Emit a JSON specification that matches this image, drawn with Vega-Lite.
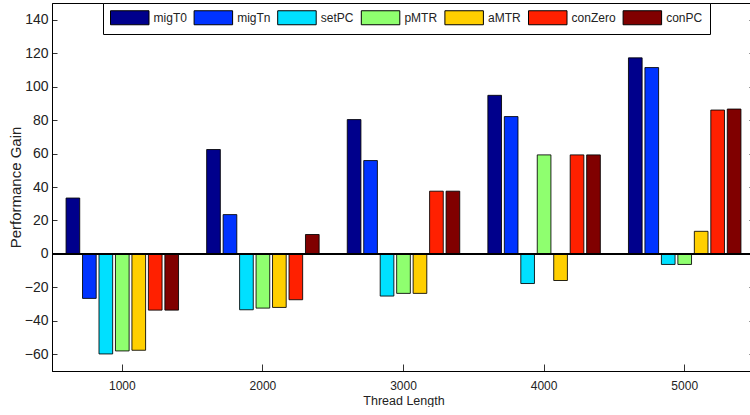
{
  "$schema": "https://vega.github.io/schema/vega-lite/v6.json",
  "width": 703,
  "height": 368,
  "padding": {"left": 8, "top": 2, "right": 0, "bottom": 0},
  "background": "white",
  "config": {
    "view": {"stroke": "#000", "strokeWidth": 1},
    "font": "Liberation Sans, Arial, sans-serif",
    "axis": {"domainColor": "#000", "tickColor": "#333", "labelColor": "#222", "titleColor": "#222", "grid": false}
  },
  "data": {"values": [
    {"len": "1000", "series": "migT0", "gain": 33.4},
    {"len": "1000", "series": "migTn", "gain": -26.6},
    {"len": "1000", "series": "setPC", "gain": -59.8},
    {"len": "1000", "series": "pMTR", "gain": -58.0},
    {"len": "1000", "series": "aMTR", "gain": -57.6},
    {"len": "1000", "series": "conZero", "gain": -33.6},
    {"len": "1000", "series": "conPC", "gain": -33.6},
    {"len": "2000", "series": "migT0", "gain": 62.4},
    {"len": "2000", "series": "migTn", "gain": 23.5},
    {"len": "2000", "series": "setPC", "gain": -33.4},
    {"len": "2000", "series": "pMTR", "gain": -32.4},
    {"len": "2000", "series": "aMTR", "gain": -32.0},
    {"len": "2000", "series": "conZero", "gain": -27.4},
    {"len": "2000", "series": "conPC", "gain": 11.6},
    {"len": "3000", "series": "migT0", "gain": 80.3},
    {"len": "3000", "series": "migTn", "gain": 55.8},
    {"len": "3000", "series": "setPC", "gain": -25.2},
    {"len": "3000", "series": "pMTR", "gain": -23.6},
    {"len": "3000", "series": "aMTR", "gain": -23.6},
    {"len": "3000", "series": "conZero", "gain": 37.5},
    {"len": "3000", "series": "conPC", "gain": 37.5},
    {"len": "4000", "series": "migT0", "gain": 94.8},
    {"len": "4000", "series": "migTn", "gain": 82.1},
    {"len": "4000", "series": "setPC", "gain": -17.7},
    {"len": "4000", "series": "pMTR", "gain": 59.2},
    {"len": "4000", "series": "aMTR", "gain": -15.9},
    {"len": "4000", "series": "conZero", "gain": 59.2},
    {"len": "4000", "series": "conPC", "gain": 59.2},
    {"len": "5000", "series": "migT0", "gain": 117.2},
    {"len": "5000", "series": "migTn", "gain": 111.4},
    {"len": "5000", "series": "setPC", "gain": -6.3},
    {"len": "5000", "series": "pMTR", "gain": -6.3},
    {"len": "5000", "series": "aMTR", "gain": 13.5},
    {"len": "5000", "series": "conZero", "gain": 86.0},
    {"len": "5000", "series": "conPC", "gain": 86.6}
  ]},
  "resolve": {"axis": {"y": "independent"}},
  "layer": [
    {
      "mark": {"type": "bar", "stroke": "#000", "strokeWidth": 1, "strokeOpacity": 0.85},
      "encoding": {
        "x": {
          "field": "len", "type": "ordinal",
          "scale": {"paddingInner": 0.2, "paddingOuter": 0.1},
          "axis": {"title": "Thread Length", "labelAngle": 0, "tickSize": -7, "labelPadding": 16,
                   "labelFontSize": 12, "titleFontSize": 12.5, "titleFontWeight": "normal", "titlePadding": 3}
        },
        "xOffset": {
          "field": "series", "type": "nominal",
          "scale": {"domain": ["migT0", "migTn", "setPC", "pMTR", "aMTR", "conZero", "conPC"], "paddingInner": 0.17, "paddingOuter": 0}
        },
        "y": {
          "field": "gain", "type": "quantitative", "stack": null,
          "scale": {"domain": [-70, 150], "nice": false},
          "axis": {"title": "Performance Gain", "values": [-60, -40, -20, 0, 20, 40, 60, 80, 100, 120, 140],
                   "tickSize": -5, "labelPadding": 9, "labelOverlap": false,
                   "labelFontSize": 14, "titleFontSize": 15, "titleFontWeight": "normal", "titlePadding": 1}
        },
        "color": {
          "field": "series", "type": "nominal",
          "scale": {
            "domain": ["migT0", "migTn", "setPC", "pMTR", "aMTR", "conZero", "conPC"],
            "range": ["#00008c", "#0033ff", "#00e0ff", "#8fff6f", "#ffcf00", "#ff2000", "#800000"]
          },
          "legend": {
            "title": null, "orient": "none", "legendX": 51, "legendY": 0,
            "direction": "horizontal", "columns": 7, "columnPadding": 4.6,
            "symbolType": "M-1,-1H4.5V1H-1Z", "symbolSize": 196,
            "symbolStrokeColor": "#000", "symbolStrokeWidth": 1, "symbolOpacity": 1,
            "labelOffset": 28.6, "labelFontSize": 12, "labelColor": "#222",
            "strokeColor": "#000", "fillColor": "white", "padding": 7
          }
        }
      }
    },
    {
      "mark": {"type": "rule", "color": "#000", "strokeWidth": 1},
      "encoding": {"y": {"datum": 0, "type": "quantitative",
        "axis": {"orient": "right", "title": null, "labels": false, "domain": false, "tickSize": -6,
                 "values": [-60, -40, -20, 0, 20, 40, 60, 80, 100, 120, 140]}}}
    }
  ]
}
